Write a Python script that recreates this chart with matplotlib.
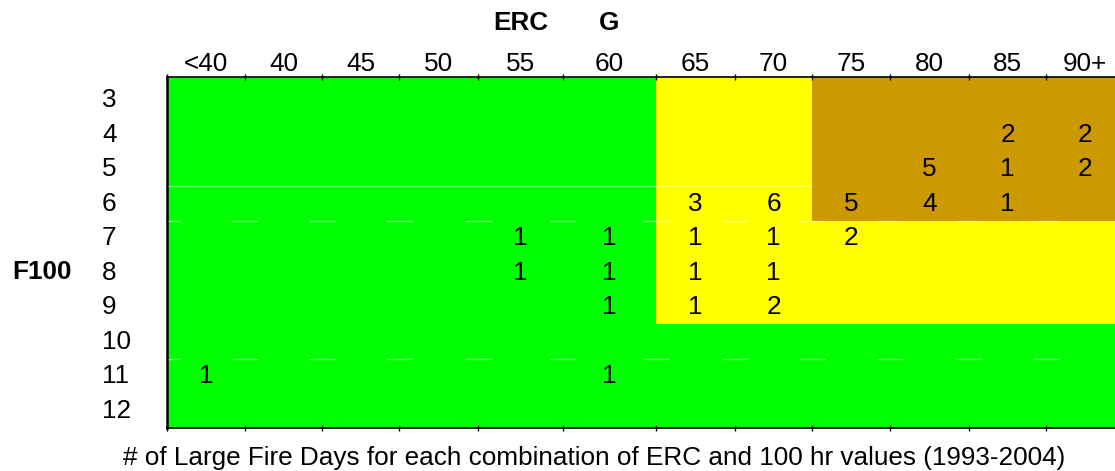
import matplotlib
matplotlib.use("Agg")
import matplotlib.pyplot as plt
from matplotlib.colors import ListedColormap
import numpy as np

# ---------------- data ----------------
erc_labels = ["<40", "40", "45", "50", "55", "60", "65", "70", "75", "80", "85", "90+"]
f100_labels = ["3", "4", "5", "6", "7", "8", "9", "10", "11", "12"]

# G = green, Y = yellow, B = brown
zones = [
    "GGGGGGYYBBBB",  # 3
    "GGGGGGYYBBBB",  # 4
    "GGGGGGYYBBBB",  # 5
    "GGGGGGYYBBBB",  # 6
    "GGGGGGYYYYYY",  # 7
    "GGGGGGYYYYYY",  # 8
    "GGGGGGYYYYYY",  # 9
    "GGGGGGGGGGGG",  # 10
    "GGGGGGGGGGGG",  # 11
    "GGGGGGGGGGGG",  # 12
]

counts = [
    [0, 0, 0, 0, 0, 0, 0, 0, 0, 0, 0, 0],  # 3
    [0, 0, 0, 0, 0, 0, 0, 0, 0, 0, 2, 2],  # 4
    [0, 0, 0, 0, 0, 0, 0, 0, 0, 5, 1, 2],  # 5
    [0, 0, 0, 0, 0, 0, 3, 6, 5, 4, 1, 0],  # 6
    [0, 0, 0, 0, 1, 1, 1, 1, 2, 0, 0, 0],  # 7
    [0, 0, 0, 0, 1, 1, 1, 1, 0, 0, 0, 0],  # 8
    [0, 0, 0, 0, 0, 1, 1, 2, 0, 0, 0, 0],  # 9
    [0, 0, 0, 0, 0, 0, 0, 0, 0, 0, 0, 0],  # 10
    [1, 0, 0, 0, 0, 1, 0, 0, 0, 0, 0, 0],  # 11
    [0, 0, 0, 0, 0, 0, 0, 0, 0, 0, 0, 0],  # 12
]

# ---------------- layout / style ----------------
col_edges = [0, 78, 155, 232, 311, 396, 489, 568, 645, 723, 802, 879, 957]
row_edges = [-0.67] + [i + 0.5 for i in range(len(f100_labels))]
zone_colors = {"G": "#00FF00", "Y": "#FFFF00", "B": "#CC9900"}
zone_order = ["G", "Y", "B"]
FS = 18.8
FONT = ["Liberation Sans", "DejaVu Sans"]
plt.rcParams["font.family"] = FONT

W, H = 1115, 471
fig = plt.figure(figsize=(W / 100, H / 100), dpi=100)
ax = fig.add_axes([167 / W, 43 / H, 957 / W, 351 / H])

zone_idx = np.array([[zone_order.index(c) for c in row] for row in zones])
cmap = ListedColormap([zone_colors[z] for z in zone_order])
ax.pcolormesh(col_edges, row_edges, zone_idx, cmap=cmap, vmin=-0.5, vmax=2.5)

centers = [(col_edges[i] + col_edges[i + 1]) / 2 for i in range(len(erc_labels))]
for r, row in enumerate(counts):
    for c, v in enumerate(row):
        if v:
            ax.text(centers[c], r, str(v), ha="center", va="center", fontsize=FS, color="black")

# faint separator lines
brown_start = col_edges[zones[0].index("B")]
ax.hlines(2.5, 0, brown_start, colors="white", alpha=0.45, lw=1)
for yb in (3.5, 7.5):
    for e in col_edges[:-1]:
        ax.hlines(yb, max(e - 13, 0), e + 13, colors="white", alpha=0.45, lw=1)

ax.set_xlim(col_edges[0], col_edges[-1])
ax.set_ylim(row_edges[-1], row_edges[0])

ax.set_xticks(col_edges)
ax.set_xticklabels([])
ax.tick_params(which="major", direction="inout", length=5, width=1,
               top=True, bottom=True, labeltop=False, labelbottom=False)
ax.set_xticks(centers, minor=True)
ax.set_xticklabels(erc_labels, minor=True, fontsize=FS)
ax.tick_params(which="minor", length=0, top=True, bottom=False,
               labeltop=True, labelbottom=False, pad=1)
ax.set_yticks([])

for s in ("top", "bottom", "left"):
    ax.spines[s].set_linewidth(1.2)
    ax.spines[s].set_color("black")
ax.spines["left"].set_linewidth(1.8)
ax.spines["right"].set_visible(False)

for r, lab in enumerate(f100_labels):
    ax.text(-65, r, lab, fontsize=FS, ha="left", va="center", clip_on=False)

fig.text((167 + centers[4]) / W, 1 - 23 / H, "ERC", fontsize=FS, fontweight="bold", ha="center", va="center")
fig.text((167 + centers[5]) / W, 1 - 23 / H, "G", fontsize=FS, fontweight="bold", ha="center", va="center")
fig.text(42.5 / W, 1 - 272 / H, "F100", fontsize=FS, fontweight="bold", ha="center", va="center")
fig.text(594 / W, 1 - 458 / H,
         "# of Large Fire Days for each combination of ERC and 100 hr values (1993-2004)",
         fontsize=FS, ha="center", va="center")

fig.savefig("out.png", dpi=100)
